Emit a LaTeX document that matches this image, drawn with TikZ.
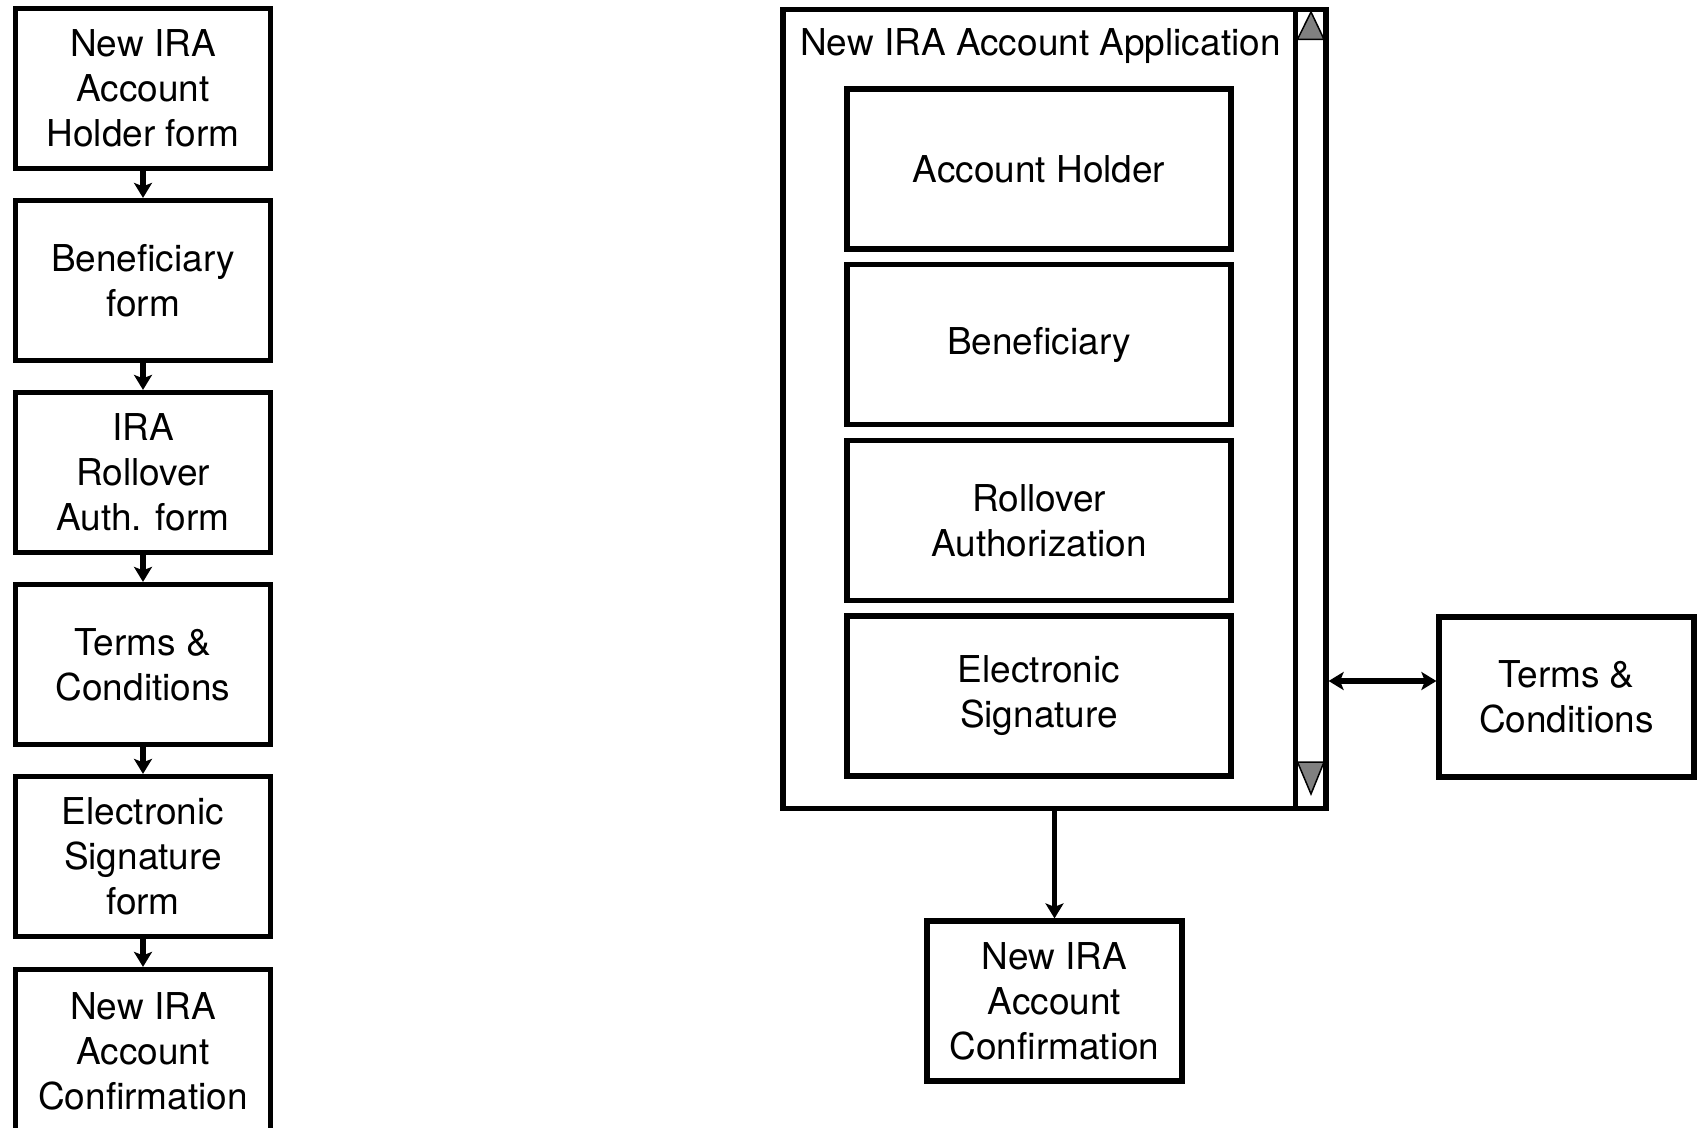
\documentclass[tikz,border=0pt]{standalone}
\usepackage{fontspec}
\setmainfont{TeX Gyre Heros}
\usetikzlibrary{arrows.meta,calc}
\begin{document}
\begin{tikzpicture}[x=1pt,y=-1pt,
  lw/.style={line width=5.2pt},
  labelfont/.style={font=\fontsize{37}{45}\selectfont},
  box/.style={draw, lw, minimum width=255pt, minimum height=160pt, inner sep=0pt,
    align=center, labelfont},
  panel/.style={box, minimum width=384pt},
  tip/.tip={Stealth[length=15pt,width=18pt,inset=3.5pt]},
  arr/.style={draw=black, line width=5.8pt, -tip},
  darr/.style={draw=black, line width=5.8pt, tip-tip},
  scrolltip/.style={fill=black!50, draw=black, line width=1.5pt, line join=miter},
]
\useasboundingbox (0,0) rectangle (1697,1127);
\clip (0,0) rectangle (1697,1127);

% page-by-page flow
\node[box] (l1) at (143,88.5)  {New IRA\\Account\\Holder form};
\node[box] (l2) at (143,280.5) {Beneficiary\\form};
\node[box] (l3) at (143,472.5) {IRA\\Rollover\\Auth. form};
\node[box] (l4) at (143,664.5) {Terms \&\\Conditions};
\node[box] (l5) at (143,856.5) {Electronic\\Signature\\form};
\node[box, minimum height=164pt] (l6) at (143,1051.5) {New IRA\\Account\\Confirmation};
\foreach \a/\b in {l1/l2,l2/l3,l3/l4,l4/l5,l5/l6}
  \draw[arr] (\a.south) -- (\b.north);

% single scrolling application page
\node[draw, lw, minimum width=543pt, minimum height=799pt, inner sep=0pt] (frame) at (1054.5,409) {};
\node[draw, lw, minimum width=30.5pt, minimum height=799pt, inner sep=0pt] (scroll) at (1310.75,409) {};
\node[anchor=base west, inner sep=0pt, labelfont] (title) at (800,55.7) {New IRA Account Application};

\node[panel] (p1) at (1039,169)   {Account Holder};
\node[panel] (p2) at (1039,344.7) {Beneficiary};
\node[panel] (p3) at (1039,520.3) {Rollover\\Authorization};
\node[panel] (p4) at (1039,696)   {Electronic\\Signature};

% scroll arrows
\coordinate (upA) at (1311,12);
\coordinate (dnA) at (1311,794);
\draw[scrolltip] (upA) -- (1297.5,39.3) -- (1324,39.3) -- cycle;
\draw[scrolltip] (dnA) -- (1297.5,762) -- (1324,762) -- cycle;

\node[box] (conf)  at (1054.5,1001) {New IRA\\Account\\Confirmation};
\node[box] (terms) at (1566.5,697)  {Terms \&\\Conditions};

\draw[arr] (frame.south) -- (conf.north);
\draw[darr] (scroll.east |- 0,681) -- (terms.west |- 0,681);
\end{tikzpicture}
\end{document}
